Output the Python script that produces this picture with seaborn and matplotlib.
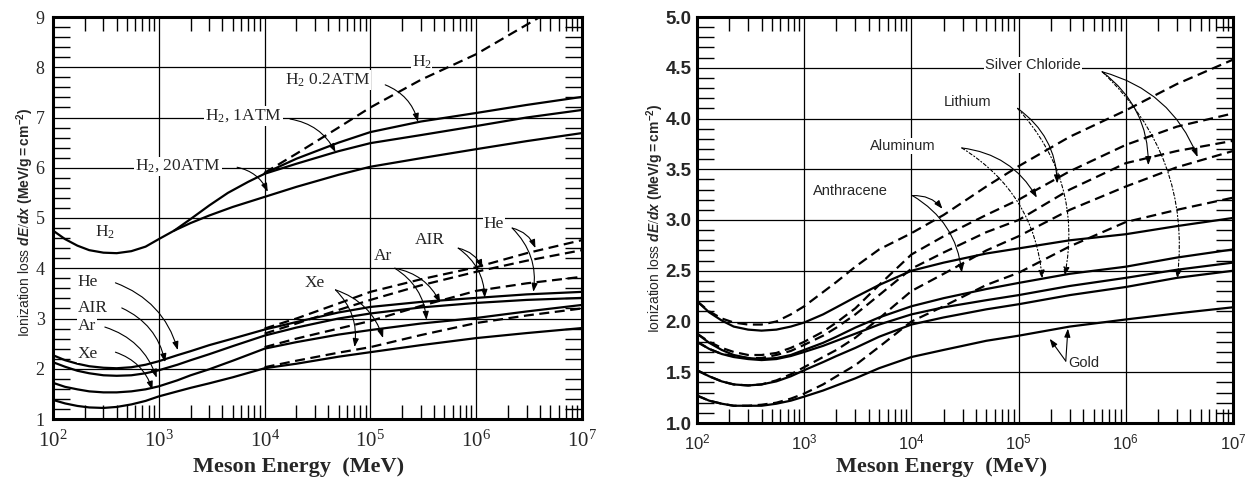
import numpy as np
import pandas as pd
import matplotlib
matplotlib.use("Agg")
import matplotlib.pyplot as plt
import matplotlib.ticker as mticker
import seaborn as sns

# ---------------- data: left panel (gases) ----------------
h2_1atm_E = [1e2, 1.3e2, 1.7e2, 2.2e2, 3e2, 4e2, 5.5e2, 7.5e2, 1e3, 1.4e3, 2e3, 3e3, 4.5e3, 7e3,
             1e4, 2e4, 5e4, 1e5, 3e5, 1e6, 3e6, 1e7]
h2_1atm = [4.75, 4.58, 4.45, 4.36, 4.31, 4.30, 4.34, 4.43, 4.58, 4.75, 4.98, 5.25, 5.5, 5.72,
           5.88, 6.08, 6.33, 6.49, 6.65, 6.83, 7.0, 7.15]
h2_02atm_E = [1e4, 2e4, 5e4, 1e5, 3e5, 1e6, 3e6, 1e7]
h2_02atm = [5.89, 6.18, 6.5, 6.71, 6.92, 7.09, 7.25, 7.41]
h2_gas_E = [1e4, 2e4, 5e4, 1e5, 3e5, 1e6, 4e6]
h2_gas = [5.9, 6.28, 6.8, 7.2, 7.75, 8.26, 9.0]
h2_20atm_E = [1.4e3, 2e3, 3e3, 5e3, 1e4, 2e4, 5e4, 1e5, 3e5, 1e6, 3e6, 1e7]
h2_20atm = [4.75, 4.9, 5.05, 5.22, 5.42, 5.62, 5.86, 6.02, 6.19, 6.37, 6.53, 6.69]

gas_E = [1e2, 1.3e2, 1.7e2, 2.2e2, 3e2, 4e2, 5.5e2, 7.5e2, 1e3, 1.5e3, 2e3, 3e3, 5e3,
         1e4, 2e4, 5e4, 1e5, 3e5, 1e6, 3e6, 1e7]
gas_hi_E = [1e4, 2e4, 5e4, 1e5, 3e5, 1e6, 3e6, 1e7]
he_solid = [2.27, 2.17, 2.1, 2.05, 2.02, 2.01, 2.03, 2.08, 2.15, 2.27, 2.35, 2.47, 2.6,
            2.78, 2.93, 3.12, 3.23, 3.33, 3.41, 3.48, 3.53]
he_dash = [2.8, 3.0, 3.3, 3.53, 3.78, 4.02, 4.3, 4.56]
air_solid = [2.13, 2.04, 1.96, 1.91, 1.87, 1.86, 1.87, 1.91, 1.97, 2.08, 2.17, 2.29, 2.45,
             2.66, 2.82, 3.0, 3.1, 3.22, 3.31, 3.37, 3.41]
air_dash = [2.7, 2.9, 3.17, 3.37, 3.66, 3.93, 4.15, 4.36]
ar_solid = [1.72, 1.64, 1.59, 1.55, 1.53, 1.53, 1.55, 1.59, 1.65, 1.77, 1.87, 1.99, 2.16,
            2.4, 2.53, 2.68, 2.77, 2.9, 3.01, 3.14, 3.27]
ar_dash = [2.43, 2.6, 2.8, 2.95, 3.25, 3.55, 3.7, 3.83]
xe_solid = [1.38, 1.31, 1.26, 1.23, 1.22, 1.24, 1.29, 1.36, 1.45, 1.55, 1.62, 1.71, 1.83,
            2.01, 2.1, 2.24, 2.33, 2.47, 2.61, 2.71, 2.81]
xe_dash = [2.03, 2.16, 2.32, 2.43, 2.67, 2.91, 3.06, 3.2]

# ---------------- data: right panel (condensed materials) ----------------
mat_E = [1e2, 1.3e2, 1.7e2, 2.2e2, 3e2, 4e2, 5.5e2, 7.5e2, 1e3, 1.5e3, 2e3, 3e3, 5e3,
         1e4, 2e4, 5e4, 1e5, 3e5, 1e6, 3e6, 1e7]
anth_solid = [2.2, 2.09, 2.01, 1.95, 1.92, 1.91, 1.92, 1.95, 1.99, 2.07, 2.14, 2.24, 2.36,
              2.5, 2.58, 2.67, 2.72, 2.8, 2.86, 2.94, 3.02]
anth_dash = [2.2, 2.1, 2.03, 1.99, 1.97, 1.97, 2.0, 2.07, 2.15, 2.29, 2.39, 2.54, 2.71,
             2.87, 3.05, 3.33, 3.53, 3.82, 4.08, 4.34, 4.58]
li_solid = [1.88, 1.79, 1.72, 1.67, 1.64, 1.63, 1.64, 1.67, 1.72, 1.79, 1.85, 1.94, 2.04,
            2.15, 2.23, 2.32, 2.38, 2.47, 2.54, 2.63, 2.71]
li_dash = [1.88, 1.8, 1.74, 1.7, 1.67, 1.67, 1.69, 1.74, 1.8, 1.9, 1.99, 2.13, 2.36,
           2.66, 2.84, 3.05, 3.2, 3.48, 3.74, 3.92, 4.05]
al_solid = [1.8, 1.73, 1.68, 1.65, 1.63, 1.62, 1.63, 1.66, 1.7, 1.76, 1.81, 1.88, 1.97,
            2.07, 2.14, 2.21, 2.26, 2.35, 2.43, 2.51, 2.58]
al_dash = [1.8, 1.73, 1.68, 1.66, 1.64, 1.64, 1.67, 1.71, 1.77, 1.86, 1.94, 2.07, 2.26,
           2.52, 2.68, 2.88, 3.0, 3.3, 3.56, 3.68, 3.78]
agcl_solid = [1.52, 1.46, 1.41, 1.38, 1.37, 1.38, 1.41, 1.46, 1.52, 1.6, 1.66, 1.74, 1.85,
              1.97, 2.04, 2.12, 2.17, 2.26, 2.34, 2.43, 2.5]
agcl_dash = [1.52, 1.46, 1.41, 1.38, 1.37, 1.38, 1.42, 1.48, 1.55, 1.65, 1.72, 1.84, 2.03,
             2.3, 2.47, 2.7, 2.84, 3.1, 3.33, 3.52, 3.68]
au_solid = [1.27, 1.22, 1.19, 1.17, 1.17, 1.17, 1.19, 1.22, 1.26, 1.32, 1.37, 1.44, 1.54,
            1.65, 1.72, 1.81, 1.86, 1.95, 2.02, 2.08, 2.14]
au_dash = [1.27, 1.22, 1.19, 1.17, 1.17, 1.18, 1.2, 1.24, 1.29, 1.38, 1.46, 1.57, 1.75,
           2.0, 2.15, 2.36, 2.48, 2.74, 2.98, 3.1, 3.22]

x_ticks = [1e2, 1e3, 1e4, 1e5, 1e6, 1e7]
x_exp = [2, 3, 4, 5, 6, 7]
left_yticks = [1, 2, 3, 4, 5, 6, 7, 8, 9]
right_yticks = [1.0, 1.5, 2.0, 2.5, 3.0, 3.5, 4.0, 4.5, 5.0]

# ---------------- style ----------------
sns.set_style("white")
plt.rcParams.update({
    "font.family": ["Liberation Sans", "DejaVu Sans"],
    "mathtext.fontset": "custom",
    "mathtext.rm": "Liberation Serif",
    "mathtext.it": "Liberation Sans:italic:bold",
    "mathtext.bf": "Liberation Sans:bold",
    "mathtext.sf": "Liberation Sans",
    "lines.dashed_pattern": [4.5, 2.5],
    "lines.solid_joinstyle": "round",
})

SERIF = "Liberation Serif"
SANS = "Liberation Sans"
W, H = 1253, 487
fig = plt.figure(figsize=(W / 100, H / 100), dpi=100)
axL = fig.add_axes([53 / W, 1 - 419 / H, 529 / W, 402 / H])
axR = fig.add_axes([697 / W, 1 - 423 / H, 536 / W, 406 / H])

LW = 1.6


def curve(ax, E, v, dashed=False):
    sns.lineplot(x=E, y=v, ax=ax, color="black", lw=LW,
                 linestyle="--" if dashed else "-", sort=True, zorder=3)


def frame(ax, ylim, yminor):
    ax.set_xscale("log")
    ax.set_xlim(1e2, 1e7)
    ax.set_ylim(*ylim)
    ax.grid(True, which="major", color="black", lw=0.9)
    ax.xaxis.set_minor_locator(mticker.LogLocator(base=10, subs=np.arange(2, 10), numticks=20))
    ax.xaxis.set_minor_formatter(mticker.NullFormatter())
    ax.yaxis.set_minor_locator(mticker.MultipleLocator(yminor))
    ax.tick_params(which="major", length=0)
    ax.tick_params(axis="x", which="minor", direction="in", length=10, width=1.0,
                   top=True, bottom=True, color="black")
    ax.tick_params(axis="y", which="minor", direction="in", length=12, width=1.0,
                   left=True, right=True, color="black")
    for s in ax.spines.values():
        s.set_visible(True)
        s.set_color("black")
        s.set_linewidth(2.2)
    ax.set_xlabel("")
    ax.set_ylabel("")


# ---------------- left panel ----------------
frame(axL, (1, 9), 0.2)
curve(axL, h2_1atm_E, h2_1atm)
curve(axL, h2_02atm_E, h2_02atm)
curve(axL, h2_gas_E, h2_gas, dashed=True)
curve(axL, h2_20atm_E, h2_20atm)
for s_vals, d_vals in [(he_solid, he_dash), (air_solid, air_dash),
                       (ar_solid, ar_dash), (xe_solid, xe_dash)]:
    curve(axL, gas_E, s_vals)
    curve(axL, gas_hi_E, d_vals, dashed=True)

axL.set_xticks(x_ticks, [f"$10^{{{e}}}$" for e in x_exp], fontsize=15)
axL.set_yticks(left_yticks, [str(v) for v in left_yticks], fontsize=13, fontfamily=SERIF)
axL.tick_params(axis="x", which="major", pad=7)
axL.tick_params(axis="y", which="major", pad=6)


def note(ax, text, pos, start, targets, family, size, ha="left", rad=-0.25, ls="-"):
    if text:
        ax.text(pos[0], pos[1], text, ha=ha, va="center", fontsize=size, family=family,
                zorder=5, bbox=dict(fc="white", ec="none", pad=0.6))
    for t in targets:
        ax.annotate("", xy=t, xytext=start, zorder=6,
                    arrowprops=dict(arrowstyle="-|>,head_length=0.5,head_width=0.18",
                                    lw=0.8, color="black", linestyle=ls,
                                    connectionstyle=f"arc3,rad={rad}",
                                    shrinkA=0, shrinkB=0))


fs = 12.5
note(axL, "H$_2$", (3.1e2, 4.72), None, [], SERIF, fs, ha="center")
note(axL, "H$_2$ 0.2ATM", (1.55e4, 7.75), (10**5.14, 7.65), [(10**5.45, 6.91)], SERIF, fs)
note(axL, "H$_2$, 1ATM", (2.75e3, 7.03), (10**4.24, 6.97), [(10**4.67, 6.31)], SERIF, fs)
note(axL, "H$_2$, 20ATM", (6.0e2, 6.03), (10**3.74, 6.01), [(10**4.03, 5.52)], SERIF, fs)
note(axL, "H$_2$", (2.45e5, 8.1), None, [], SERIF, fs)
note(axL, "He", (1.72e2, 3.73), (10**2.59, 3.71), [(10**3.18, 2.37)], SERIF, fs)
note(axL, "AIR", (1.72e2, 3.21), (10**2.65, 3.21), [(10**3.06, 2.13)], SERIF, fs)
note(axL, "Ar", (1.72e2, 2.85), (10**2.49, 2.83), [(10**2.98, 1.82)], SERIF, fs)
note(axL, "Xe", (1.72e2, 2.29), (10**2.59, 2.33), [(10**2.94, 1.58)], SERIF, fs)
note(axL, "Xe", (2.4e4, 3.71), (10**4.67, 3.57), [(10**4.85, 2.43), (10**5.12, 2.61)], SERIF, fs)
note(axL, "Ar", (1.07e5, 4.24), (10**5.23, 4.0), [(10**5.66, 3.31), (10**5.53, 2.97)], SERIF, fs)
note(axL, "AIR", (2.63e5, 4.56), (10**5.83, 4.4), [(10**6.06, 4.0), (10**6.08, 3.41)], SERIF, fs)
note(axL, "He", (1.17e6, 4.88), (10**6.34, 4.8), [(10**6.56, 4.4), (10**6.54, 3.53)], SERIF, fs)

# ---------------- right panel ----------------
frame(axR, (1.0, 5.0), 0.1)
for s_vals, d_vals in [(anth_solid, anth_dash), (li_solid, li_dash), (al_solid, al_dash),
                       (agcl_solid, agcl_dash), (au_solid, au_dash)]:
    curve(axR, mat_E, s_vals)
    curve(axR, mat_E, d_vals, dashed=True)

axR.set_xticks(x_ticks, [f"$\\mathsf{{10^{{{e}}}}}$" for e in x_exp], fontsize=12)
axR.set_yticks(right_yticks, [f"{v:.1f}" for v in right_yticks], fontsize=13.5,
               fontweight="bold", fontfamily=SANS)
axR.tick_params(axis="x", which="major", pad=7)
axR.tick_params(axis="y", which="major", pad=4)

fr = 10.5
dd = (0, (3, 2, 1, 2))
note(axR, "Silver Chloride", (10**4.69, 4.53), (10**5.78, 4.46),
     [(10**6.67, 3.62), (10**6.21, 3.54)], SANS, fr)
note(axR, "", None, (10**5.78, 4.46), [(10**6.48, 2.42)], SANS, fr, ls=dd)
note(axR, "Lithium", (10**4.30, 4.16), (10**4.99, 4.1), [(10**5.36, 3.36)], SANS, fr)
note(axR, "", None, (10**4.99, 4.1), [(10**5.43, 2.45)], SANS, fr, ls=dd)
note(axR, "Aluminum", (10**3.61, 3.73), (10**4.47, 3.71), [(10**5.17, 3.22)], SANS, fr)
note(axR, "", None, (10**4.47, 3.71), [(10**5.22, 2.42)], SANS, fr, ls=dd)
note(axR, "Anthracene", (10**3.08, 3.29), (10**4.01, 3.24),
     [(10**4.29, 3.11), (10**4.47, 2.48)], SANS, fr)
note(axR, "Gold", (10**5.46, 1.59), (10**5.44, 1.61),
     [(10**5.29, 1.83), (10**5.46, 1.93)], SANS, fr, rad=0.0)

# ---------------- axis titles ----------------
fig.text(299 / W, 1 - 467 / H, "Meson Energy  (MeV)", ha="center", va="center",
         family=SERIF, weight="bold", fontsize=16)
fig.text(942 / W, 1 - 467 / H, "Meson Energy  (MeV)", ha="center", va="center",
         family=SERIF, weight="bold", fontsize=16)
ylab = r"Ionization loss $\mathit{dE/dx}$ $\mathbf{(MeV/g=cm^{-2})}$"
fig.text(25 / W, 1 - 222 / H, ylab, rotation=90, ha="center", va="center",
         family=SANS, fontsize=10)
fig.text(655 / W, 1 - 218 / H, ylab, rotation=90, ha="center", va="center",
         family=SANS, fontsize=10)

fig.savefig("out.png", dpi=100, facecolor="white")
